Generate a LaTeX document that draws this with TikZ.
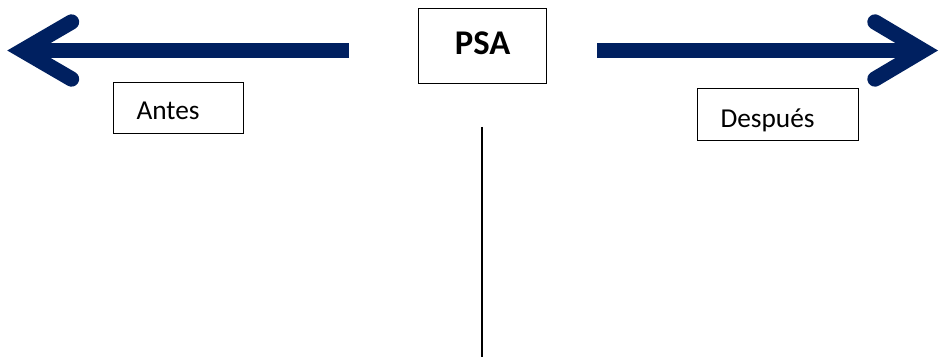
\documentclass[tikz,border=0pt]{standalone}
\usepackage{fontspec}
\setmainfont{Carlito}
\definecolor{navy}{HTML}{002060}
\tikzset{
  shaft/.style={draw=navy, line width=11.25pt, line cap=butt},
  chevron/.style={draw=navy, line width=11.5pt, line cap=round, line join=miter},
  box/.style={draw=black, line width=0.8pt, rectangle, inner ysep=0pt, anchor=north west},
  labelbox/.style={box, align=left, inner xsep=17.25pt, font=\fontsize{20.5pt}{24pt}\selectfont},
  divider/.style={draw=black, line width=1.5pt}
}
\begin{document}
\begin{tikzpicture}[x=0.75pt, y=-0.75pt]
  \useasboundingbox (0,0) rectangle (940,360);

  % central title box
  \node[box, inner xsep=0pt, minimum width=96pt, text height=34.5pt, text depth=21.75pt,
        font=\fontsize{26pt}{30pt}\selectfont\bfseries] (psa) at (418,8) {PSA};

  % side label boxes
  \node[labelbox, text width=63pt, text height=27.75pt, text depth=10.5pt] (antes) at (113,82) {Antes};
  \node[labelbox, text width=86.25pt, text height=29.25pt, text depth=9.75pt] (despues) at (697,88) {Después};

  % left arrow: shaft and chevron head
  \coordinate (lstart) at (349,50.5);
  \coordinate (ltip) at (22.5,50.5);
  \coordinate (lup) at (71.5,22);
  \coordinate (ldn) at (71.5,79);
  \draw[shaft] (lstart) -- (ltip);
  \draw[chevron] (lup) -- (ltip) -- (ldn);

  % right arrow: shaft and chevron head
  \coordinate (rstart) at (597,50.5);
  \coordinate (rtip) at (923,50.5);
  \coordinate (rup) at (875,22);
  \coordinate (rdn) at (875,79);
  \draw[shaft] (rstart) -- (rtip);
  \draw[chevron] (rup) -- (rtip) -- (rdn);

  % vertical divider under the title
  \coordinate (vtop) at (482,127);
  \coordinate (vbot) at (482,357);
  \draw[divider] (vtop) -- (vbot);
\end{tikzpicture}
\end{document}
